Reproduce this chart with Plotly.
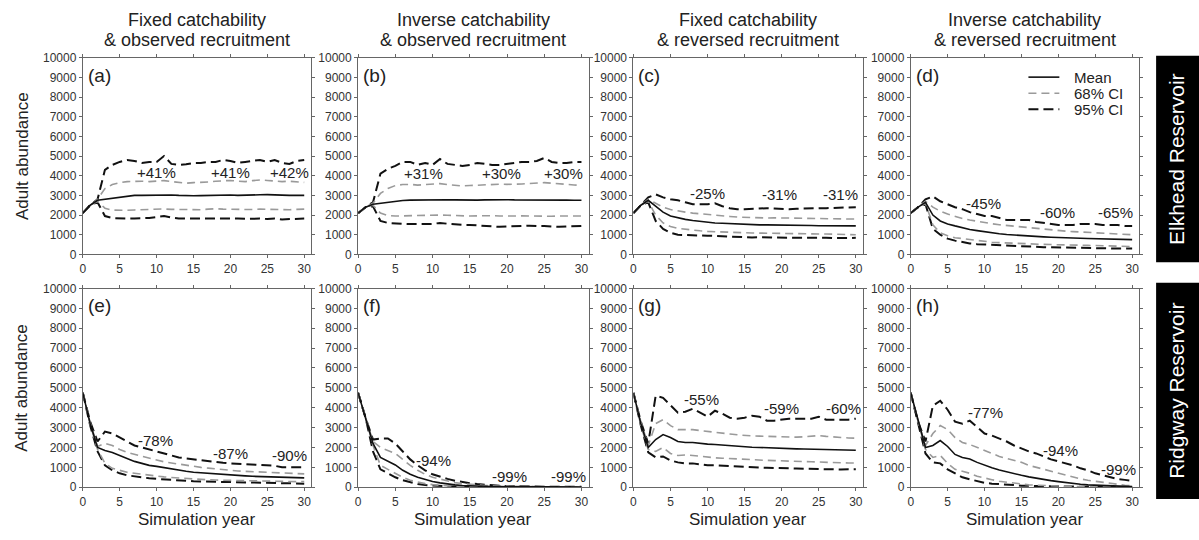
import plotly.graph_objects as go

W, H = 1199, 540

years = list(range(31))

titles = [
    ["Fixed catchability", "& observed recruitment"],
    ["Inverse catchability", "& observed recruitment"],
    ["Fixed catchability", "& reversed recruitment"],
    ["Inverse catchability", "& reversed recruitment"],
]
panel_labels = ["(a)", "(b)", "(c)", "(d)", "(e)", "(f)", "(g)", "(h)"]
reservoirs = ["Elkhead Reservoir", "Ridgway Reservoir"]
series_names = ["Mean", "68% CI", "95% CI"]
x_ticks = [0, 5, 10, 15, 20, 25, 30]
y_ticks = [0, 1000, 2000, 3000, 4000, 5000, 6000, 7000, 8000, 9000, 10000]
y_tick_text = ["0", "1000", "2000", "3000", "4000", "5000", "6000", "7000", "8000", "9000", "10000"]

# ---- Panel (a)
mean_a = [2100, 2500, 2750, 2800, 2870, 2930, 2980, 3000, 3000, 3010, 3020, 3040, 3020, 3000, 2980, 2980, 2990, 3000, 3010, 3030, 3020, 3000, 3000, 3010, 3030, 3040, 3020, 3000, 3000, 3000, 3000]
u68_a = [2100, 2500, 2800, 3350, 3550, 3650, 3700, 3720, 3720, 3700, 3740, 3750, 3700, 3650, 3620, 3650, 3650, 3680, 3720, 3750, 3760, 3720, 3700, 3750, 3780, 3760, 3720, 3700, 3720, 3700, 3660]
l68_a = [2100, 2500, 2700, 2350, 2250, 2230, 2240, 2260, 2280, 2290, 2300, 2310, 2290, 2280, 2270, 2260, 2270, 2300, 2320, 2300, 2290, 2280, 2270, 2280, 2300, 2290, 2270, 2260, 2270, 2290, 2300]
u95_a = [2100, 2500, 2800, 4300, 4550, 4700, 4800, 4750, 4650, 4700, 4700, 5000, 4600, 4550, 4580, 4650, 4650, 4700, 4700, 4800, 4750, 4650, 4700, 4750, 4800, 4700, 4800, 4650, 4600, 4750, 4800]
l95_a = [2100, 2500, 2650, 1950, 1850, 1820, 1820, 1830, 1840, 1850, 1900, 1950, 1880, 1830, 1820, 1830, 1840, 1850, 1830, 1820, 1830, 1820, 1810, 1830, 1820, 1800, 1820, 1780, 1800, 1820, 1820]
# ---- Panel (b)
mean_b = [2100, 2400, 2550, 2600, 2650, 2700, 2740, 2760, 2770, 2780, 2780, 2790, 2780, 2770, 2760, 2750, 2760, 2770, 2780, 2790, 2780, 2770, 2770, 2780, 2780, 2790, 2780, 2770, 2760, 2750, 2750]
u68_b = [2100, 2400, 2600, 3100, 3350, 3500, 3550, 3560, 3520, 3540, 3580, 3600, 3550, 3500, 3480, 3500, 3520, 3560, 3580, 3570, 3560, 3560, 3580, 3600, 3620, 3650, 3620, 3580, 3560, 3530, 3500]
l68_b = [2100, 2400, 2500, 2100, 1980, 1950, 1960, 1970, 1980, 2000, 2010, 2000, 1990, 1970, 1960, 1950, 1960, 1980, 1970, 1950, 1940, 1950, 1960, 1950, 1940, 1930, 1940, 1950, 1950, 1950, 1950]
u95_b = [2100, 2400, 2650, 4100, 4350, 4500, 4700, 4700, 4550, 4650, 4550, 4850, 4600, 4550, 4500, 4550, 4650, 4600, 4550, 4550, 4600, 4650, 4700, 4700, 4750, 4900, 4700, 4650, 4650, 4700, 4700]
l95_b = [2100, 2400, 2450, 1700, 1600, 1560, 1550, 1540, 1530, 1540, 1550, 1600, 1560, 1520, 1500, 1500, 1480, 1460, 1440, 1400, 1420, 1440, 1450, 1460, 1440, 1450, 1420, 1400, 1420, 1440, 1450]
# ---- Panel (c)
mean_c = [2100, 2500, 2750, 2450, 2150, 1950, 1850, 1780, 1720, 1670, 1630, 1600, 1580, 1560, 1540, 1520, 1510, 1500, 1500, 1500, 1490, 1480, 1480, 1470, 1470, 1460, 1460, 1450, 1450, 1450, 1450]
u68_c = [2100, 2500, 2800, 2600, 2400, 2280, 2200, 2150, 2100, 2060, 2020, 1990, 1960, 1930, 1900, 1880, 1860, 1850, 1850, 1860, 1850, 1840, 1840, 1830, 1830, 1820, 1820, 1810, 1800, 1800, 1800]
l68_c = [2100, 2500, 2700, 2000, 1600, 1420, 1320, 1270, 1240, 1200, 1170, 1150, 1140, 1130, 1110, 1100, 1090, 1080, 1070, 1070, 1060, 1060, 1050, 1050, 1050, 1040, 1040, 1030, 1020, 1010, 1000]
u95_c = [2100, 2500, 2900, 3050, 2900, 2800, 2750, 2650, 2550, 2550, 2550, 2600, 2450, 2350, 2300, 2300, 2320, 2350, 2350, 2330, 2300, 2300, 2320, 2340, 2350, 2350, 2350, 2370, 2380, 2390, 2400]
l95_c = [2100, 2500, 2650, 1700, 1300, 1100, 1000, 980, 960, 950, 950, 940, 920, 900, 880, 860, 860, 870, 860, 850, 850, 860, 850, 840, 850, 860, 850, 830, 820, 830, 850]
# ---- Panel (d)
mean_d = [2100, 2400, 2650, 2000, 1700, 1550, 1450, 1350, 1270, 1210, 1150, 1100, 1050, 1010, 980, 950, 930, 910, 890, 870, 850, 840, 830, 820, 810, 800, 790, 780, 770, 760, 750]
u68_d = [2100, 2400, 2700, 2400, 2200, 2050, 1920, 1830, 1750, 1680, 1620, 1560, 1510, 1470, 1430, 1400, 1360, 1320, 1280, 1240, 1200, 1180, 1160, 1140, 1120, 1100, 1080, 1060, 1040, 1020, 1000]
l68_d = [2100, 2400, 2600, 1500, 1100, 950, 850, 800, 750, 700, 650, 620, 600, 580, 560, 550, 540, 530, 510, 500, 500, 490, 480, 470, 460, 450, 440, 430, 420, 410, 400]
u95_d = [2100, 2400, 2800, 2950, 2700, 2550, 2400, 2300, 2150, 2050, 1950, 1950, 1850, 1750, 1750, 1750, 1750, 1650, 1600, 1550, 1500, 1500, 1500, 1550, 1550, 1550, 1500, 1500, 1500, 1450, 1450]
l95_d = [2100, 2400, 2550, 1300, 1000, 800, 700, 620, 560, 520, 500, 480, 460, 440, 420, 400, 390, 380, 370, 360, 350, 340, 330, 320, 310, 300, 300, 300, 300, 300, 300]
# ---- Panel (e)
mean_e = [4750, 3200, 2000, 1850, 1750, 1600, 1450, 1300, 1200, 1100, 1050, 980, 920, 860, 800, 750, 720, 690, 660, 630, 610, 590, 570, 550, 540, 520, 510, 500, 490, 480, 470]
u68_e = [4750, 3250, 2050, 2200, 2100, 1900, 1750, 1650, 1550, 1450, 1350, 1280, 1220, 1160, 1100, 1050, 1000, 960, 920, 880, 850, 820, 800, 780, 760, 740, 720, 700, 690, 680, 670]
l68_e = [4750, 3150, 1900, 1200, 950, 850, 750, 700, 650, 600, 560, 520, 490, 460, 430, 410, 390, 370, 360, 350, 340, 330, 320, 310, 300, 300, 290, 280, 280, 280, 280]
u95_e = [4750, 3300, 2300, 2800, 2700, 2500, 2300, 2100, 2000, 1900, 1800, 1700, 1600, 1500, 1450, 1400, 1380, 1330, 1280, 1230, 1200, 1180, 1160, 1130, 1100, 1100, 1080, 1000, 1000, 1000, 1000]
l95_e = [4750, 3100, 1800, 1100, 850, 700, 600, 540, 490, 450, 420, 390, 360, 330, 310, 300, 290, 280, 270, 260, 250, 240, 230, 220, 210, 200, 200, 190, 190, 180, 180]
# ---- Panel (f)
mean_f = [4750, 3500, 2200, 1500, 1300, 1120, 850, 650, 500, 380, 290, 220, 160, 120, 90, 70, 55, 45, 35, 30, 25, 20, 15, 12, 10, 8, 6, 5, 5, 4, 4]
u68_f = [4750, 3500, 2300, 2000, 1850, 1700, 1400, 1100, 850, 650, 500, 400, 300, 230, 180, 140, 110, 90, 70, 55, 45, 40, 35, 30, 25, 20, 18, 15, 12, 10, 10]
l68_f = [4750, 3500, 2100, 1100, 900, 700, 500, 350, 250, 180, 130, 90, 70, 50, 40, 30, 25, 20, 15, 10, 10, 8, 6, 5, 4, 3, 2, 2, 1, 1, 1]
u95_f = [4750, 3500, 2400, 2450, 2450, 2200, 1800, 1400, 1100, 850, 650, 520, 420, 330, 260, 200, 160, 120, 90, 70, 55, 45, 40, 35, 30, 28, 25, 22, 20, 20, 20]
l95_f = [4750, 3500, 1800, 900, 700, 500, 350, 250, 160, 110, 80, 60, 40, 30, 20, 15, 10, 8, 5, 3, 2, 1, 1, 0, 0, 0, 0, 0, 0, 0, 0]
# ---- Panel (g)
mean_g = [4750, 3200, 2000, 2400, 2650, 2500, 2300, 2250, 2250, 2200, 2170, 2150, 2120, 2080, 2040, 2020, 2010, 2000, 1980, 1960, 1950, 1940, 1930, 1920, 1910, 1900, 1890, 1880, 1870, 1860, 1860]
u68_g = [4750, 3300, 2100, 3200, 3400, 3100, 2900, 2900, 2900, 2850, 2800, 2780, 2720, 2680, 2640, 2600, 2580, 2570, 2560, 2540, 2520, 2500, 2520, 2540, 2560, 2600, 2560, 2520, 2500, 2480, 2470]
l68_g = [4750, 3100, 1900, 1800, 2000, 1700, 1600, 1620, 1600, 1550, 1500, 1480, 1460, 1440, 1400, 1380, 1360, 1350, 1350, 1340, 1320, 1300, 1300, 1290, 1280, 1260, 1250, 1240, 1230, 1220, 1220]
u95_g = [4750, 3300, 2200, 4600, 4500, 4100, 3750, 3800, 3950, 3750, 3550, 3850, 3700, 3500, 3450, 3500, 3600, 3550, 3350, 3350, 3400, 3450, 3450, 3450, 3450, 3550, 3400, 3400, 3400, 3400, 3450]
l95_g = [4750, 3100, 1750, 1500, 1550, 1350, 1250, 1200, 1200, 1150, 1100, 1100, 1080, 1050, 1020, 1000, 1000, 990, 980, 960, 950, 950, 940, 930, 920, 900, 900, 890, 890, 900, 900]
# ---- Panel (h)
mean_h = [4750, 3300, 2000, 2100, 2350, 2050, 1650, 1500, 1420, 1250, 1100, 980, 870, 770, 680, 600, 520, 450, 390, 330, 280, 230, 190, 150, 120, 100, 80, 60, 50, 40, 30]
u68_h = [4750, 3300, 2100, 2700, 3100, 2900, 2500, 2250, 2150, 2000, 1850, 1700, 1550, 1450, 1350, 1250, 1100, 1000, 900, 800, 700, 600, 500, 420, 350, 300, 220, 170, 130, 100, 80]
l68_h = [4750, 3300, 1900, 1500, 1600, 1200, 900, 800, 700, 550, 450, 380, 300, 250, 200, 150, 120, 100, 80, 60, 50, 40, 35, 30, 25, 20, 15, 12, 10, 10, 10]
u95_h = [4750, 3300, 2300, 4100, 4350, 3900, 3300, 3200, 3350, 3000, 2700, 2600, 2450, 2300, 2100, 1950, 1800, 1700, 1550, 1400, 1300, 1200, 1100, 950, 850, 700, 600, 500, 420, 370, 320]
l95_h = [4750, 3300, 1700, 1250, 1200, 900, 700, 500, 400, 300, 220, 180, 150, 120, 100, 80, 70, 60, 50, 45, 40, 35, 30, 25, 20, 20, 15, 12, 10, 10, 10]

# percentage change labels: (text, x, y) per panel
pct_a = [("+41%", 10, 4150), ("+41%", 20, 4150), ("+42%", 28, 4150)]
pct_b = [("+31%", 8.8, 4100), ("+30%", 19.3, 4100), ("+30%", 27.6, 4100)]
pct_c = [("-25%", 10, 3100), ("-31%", 19.7, 3050), ("-31%", 28, 3050)]
pct_d = [("-45%", 9.8, 2600), ("-60%", 19.9, 2150), ("-65%", 27.7, 2150)]
pct_e = [("-78%", 9.9, 2350), ("-87%", 20, 1700), ("-90%", 28, 1600)]
pct_f = [("-94%", 10.1, 1350), ("-99%", 20.3, 520), ("-99%", 28.2, 520)]
pct_g = [("-55%", 9.2, 4400), ("-59%", 20, 3950), ("-60%", 28.4, 3950)]
pct_h = [("-77%", 10.1, 3750), ("-94%", 20.3, 1850), ("-99%", 28.2, 900)]

panels = [
    (mean_a, u68_a, l68_a, u95_a, l95_a, pct_a),
    (mean_b, u68_b, l68_b, u95_b, l95_b, pct_b),
    (mean_c, u68_c, l68_c, u95_c, l95_c, pct_c),
    (mean_d, u68_d, l68_d, u95_d, l95_d, pct_d),
    (mean_e, u68_e, l68_e, u95_e, l95_e, pct_e),
    (mean_f, u68_f, l68_f, u95_f, l95_f, pct_f),
    (mean_g, u68_g, l68_g, u95_g, l95_g, pct_g),
    (mean_h, u68_h, l68_h, u95_h, l95_h, pct_h),
]

# ---- layout geometry (pixels)
col_px = [(80, 309), (356, 587), (632, 862), (910, 1139)]
row_px = [(52, 254), (289, 493)]
FONT = "Liberation Sans, Arial, sans-serif"
BLACK = "#111111"
GRAY = "#9a9a9a"
AXC = "#666666"

def px_x(p):
    return p / W

def px_y(p):
    return 1 - p / H

fig = go.Figure()
layout = dict(
    width=W, height=H,
    margin=dict(l=0, r=0, t=0, b=0),
    paper_bgcolor="white", plot_bgcolor="white",
    font=dict(family=FONT, color="#222222", size=12),
    showlegend=False,
)
annotations = []
shapes = []

styles = {
    "Mean": dict(color=BLACK, width=1.6, dash="solid"),
    "68% CI": dict(color=GRAY, width=1.6, dash="8px,5px"),
    "95% CI": dict(color=BLACK, width=2.0, dash="10px,5px"),
}

for i, (mean, u68, l68, u95, l95, pct) in enumerate(panels):
    r, c = divmod(i, 4)
    n = i + 1
    xa = "x" if n == 1 else f"x{n}"
    ya = "y" if n == 1 else f"y{n}"
    for vals, key in [(u95, "95% CI"), (l95, "95% CI"), (u68, "68% CI"), (l68, "68% CI"), (mean, "Mean")]:
        fig.add_trace(go.Scatter(x=years, y=vals, mode="lines", line=styles[key],
                                 xaxis=xa, yaxis=ya, name=key, hoverinfo="skip"))

    x0, x1 = col_px[c]
    y0, y1 = row_px[r]
    axis_common = dict(showline=True, linecolor=AXC, linewidth=1, mirror="ticks",
                       ticks="outside", ticklen=3, tickcolor=AXC, tickwidth=1,
                       showgrid=False, zeroline=False,
                       tickfont=dict(size=12, family=FONT, color="#333333"))
    layout["xaxis" if n == 1 else f"xaxis{n}"] = dict(
        domain=[px_x(x0), px_x(x1)], range=[0, 30.95], anchor=ya,
        tickvals=x_ticks, ticktext=[str(t) for t in x_ticks], **axis_common)
    layout["yaxis" if n == 1 else f"yaxis{n}"] = dict(
        domain=[px_y(y1), px_y(y0)], range=[0, 10000], anchor=xa,
        tickvals=y_ticks, ticktext=y_tick_text, **axis_common)

    annotations.append(dict(text=panel_labels[i], x=0.4, y=9750, xref=xa, yref=ya,
                            xanchor="left", yanchor="top", showarrow=False,
                            font=dict(size=19, family=FONT, color="#222")))
    for txt, tx, ty in pct:
        annotations.append(dict(text=txt, x=tx, y=ty, xref=xa, yref=ya, showarrow=False,
                                xanchor="center", yanchor="middle",
                                font=dict(size=15, family=FONT, color="#222")))
    if c == 0:
        annotations.append(dict(text="Adult abundance", x=px_x(19), y=px_y((y0 + y1) / 2),
                                xref="paper", yref="paper", textangle=-90, showarrow=False,
                                xanchor="center", yanchor="middle",
                                font=dict(size=17, family=FONT, color="#222")))
    if r == 1:
        annotations.append(dict(text="Simulation year", x=px_x((x0 + x1) / 2), y=px_y(526),
                                xref="paper", yref="paper", showarrow=False,
                                xanchor="center", yanchor="middle",
                                font=dict(size=17, family=FONT, color="#222")))
    if r == 0:
        for k, (line, yy) in enumerate(zip(titles[c], (13, 34))):
            annotations.append(dict(text=line, x=px_x((x0 + x1) / 2), y=px_y(yy),
                                    xref="paper", yref="paper", showarrow=False,
                                    xanchor="center", yanchor="middle",
                                    font=dict(size=18, family=FONT, color="#222")))

# key (legend) inside panel (d)
for k, name in enumerate(series_names):
    yy = px_y(72 + 16.5 * k)
    st = styles[name]
    shapes.append(dict(type="line", xref="paper", yref="paper",
                       x0=px_x(1028), x1=px_x(1059), y0=yy, y1=yy,
                       line=dict(color=st["color"], width=st["width"], dash=st["dash"])))
    annotations.append(dict(text=name, x=px_x(1072), y=yy, xref="paper", yref="paper",
                            showarrow=False, xanchor="left", yanchor="middle",
                            font=dict(size=15, family=FONT, color="#222")))

for (yt, yb), name in zip([(50, 262), (283, 505)], reservoirs):
    shapes.append(dict(type="rect", xref="paper", yref="paper",
                       x0=px_x(1156), x1=1.0, y0=px_y(yb), y1=px_y(yt),
                       fillcolor="black", line=dict(width=0)))
    annotations.append(dict(text=name, x=px_x(1177), y=px_y((yt + yb) / 2),
                            xref="paper", yref="paper", textangle=-90, showarrow=False,
                            xanchor="center", yanchor="middle",
                            font=dict(size=21, family=FONT, color="white")))

layout["annotations"] = annotations
layout["shapes"] = shapes
fig.update_layout(**layout)
fig.write_html("out.html", config={"displayModeBar": False},
               post_script="document.body.style.margin='0';document.body.style.overflow='hidden';")
